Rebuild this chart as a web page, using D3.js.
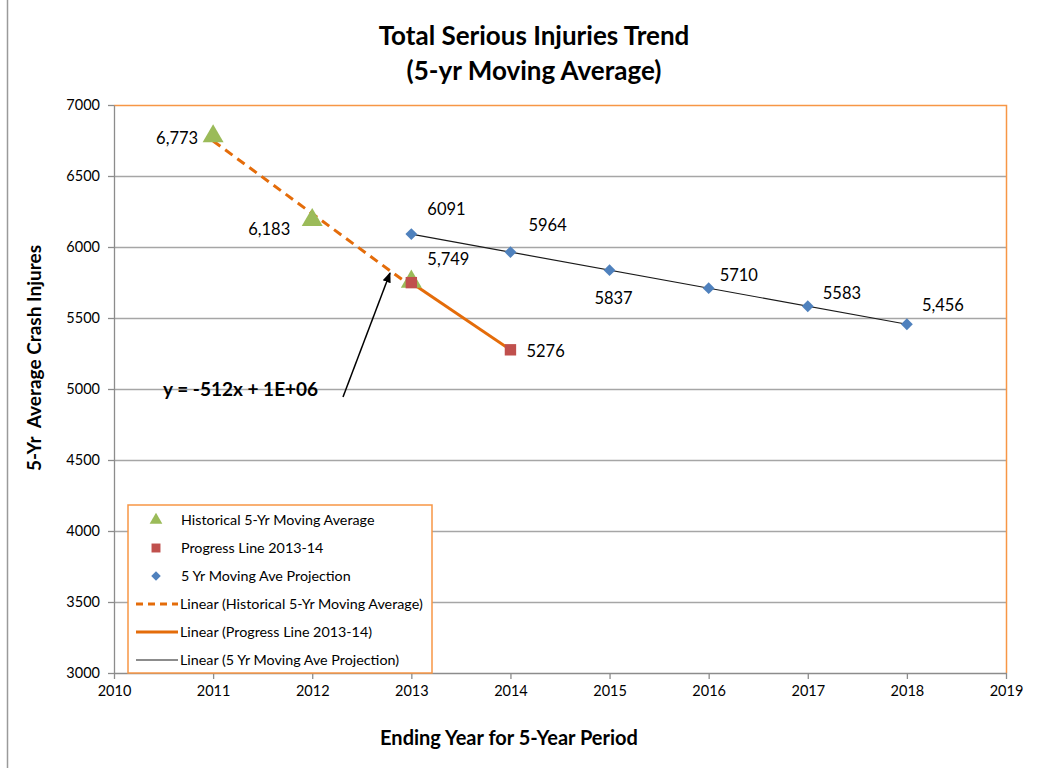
<!DOCTYPE html>
<meta charset="utf-8">
<style>
  body { margin: 0; background: #fff; }
  text { font-family: Lato, "Open Sans", sans-serif; fill: #000; }
</style>
<body>
<div id="chart"></div>
<script src="https://d3js.org/d3.v7.min.js"></script>
<script>

  // data
  var histYears = [2011, 2012, 2013],
      histValues = [6773, 6183, 5749];

  var progYears = [2013, 2014],
      progValues = [5749, 5276];

  var projYears = [2013, 2014, 2015, 2016, 2017, 2018],
      projValues = [6091, 5964, 5837, 5710, 5583, 5456];

  var xTicks = [2010, 2011, 2012, 2013, 2014, 2015, 2016, 2017, 2018, 2019],
      yTicks = [3000, 3500, 4000, 4500, 5000, 5500, 6000, 6500, 7000];

  var histLabels = ["6,773", "6,183", ""],
      progLabels = ["5,749", "5276"],
      projLabels = ["6091", "5964", "5837", "5710", "5583", "5,456"];

  var legendNames = ["Historical 5-Yr Moving Average", "Progress Line 2013-14",
                     "5 Yr Moving Ave Projection", "Linear (Historical 5-Yr Moving Average)",
                     "Linear (Progress Line 2013-14)", "Linear (5 Yr Moving Ave Projection)"];

  var green = "#9bbb59", red = "#c0504d", blue = "#4f81bd",
      orange = "#e46c0a", frame = "#f79646", grid = "#a6a6a6";

  var W = 1052, H = 768,
      plot = {left: 114, right: 1006, top: 105, bottom: 673};

  var x = d3.scaleLinear().domain([2010, 2019]).range([plot.left, plot.right]),
      y = d3.scaleLinear().domain([3000, 7000]).range([plot.bottom, plot.top]);

  var svg = d3.select("#chart").append("svg")
              .attr("width", W).attr("height", H);

  // outer frame edge on the left
  svg.append("line").attr("x1", 7.5).attr("x2", 7.5).attr("y1", 0).attr("y2", H)
     .attr("stroke", "#9a9a9a").attr("stroke-width", 1.5);

  // gridlines
  svg.append("g").selectAll("line")
     .data(yTicks.filter(d => d > 3000 && d < 7000))
     .enter().append("line")
     .attr("x1", plot.left).attr("x2", plot.right)
     .attr("y1", d => Math.round(y(d)) + 0.5).attr("y2", d => Math.round(y(d)) + 0.5)
     .attr("stroke", grid).attr("stroke-width", 1.3);

  // plot area border (orange top/right)
  svg.append("path")
     .attr("d", "M" + plot.left + "," + (plot.top + 0.5) + "H" + (plot.right + 0.5) + "V" + plot.bottom)
     .attr("fill", "none").attr("stroke", frame).attr("stroke-width", 1.5);

  // axes
  var axisX = d3.axisBottom(x).tickValues(xTicks).tickFormat(d3.format("d"))
                .tickSizeInner(6).tickSizeOuter(0).tickPadding(7);
  var axisY = d3.axisLeft(y).tickValues(yTicks).tickFormat(d3.format("d"))
                .tickSizeInner(6).tickSizeOuter(0).tickPadding(8);

  var gx = svg.append("g").attr("transform", "translate(0," + plot.bottom + ")").call(axisX);
  var gy = svg.append("g").attr("transform", "translate(" + plot.left + ",0)").call(axisY);
  [gx, gy].forEach(g => {
    g.selectAll("path, line").attr("stroke", "#8c8c8c").attr("stroke-width", 1.3);
    g.selectAll("text").attr("fill", "#222").style("font-size", "14.5px");
  });

  // titles
  svg.append("text").attr("x", 534).attr("y", 45).attr("text-anchor", "middle")
     .style("font-size", "26px").style("font-weight", "bold").text("Total Serious Injuries Trend");
  svg.append("text").attr("x", 534).attr("y", 80).attr("text-anchor", "middle")
     .style("font-size", "26px").style("font-weight", "bold").text("(5-yr Moving Average)");

  svg.append("text").attr("transform", "translate(41,358) rotate(-90)").attr("text-anchor", "middle")
     .style("font-size", "19px").style("font-weight", "bold").style("white-space", "pre")
     .text("5-Yr  Average Crash Injures");

  svg.append("text").attr("x", 509).attr("y", 745).attr("text-anchor", "middle")
     .style("font-size", "20px").style("font-weight", "bold")
     .text("Ending Year for 5-Year Period");

  // linear trend from least squares
  function trend(xs, ys) {
    var mx = d3.mean(xs), my = d3.mean(ys);
    var b = d3.sum(xs, (v, i) => (v - mx) * (ys[i] - my)) / d3.sum(xs, v => (v - mx) * (v - mx));
    var a = my - b * mx;
    var x0 = d3.min(xs), x1 = d3.max(xs);
    return [[x0, a + b * x0], [x1, a + b * x1]];
  }

  var line = d3.line().x(d => x(d[0])).y(d => y(d[1]));

  svg.append("path").datum(trend(histYears, histValues)).attr("d", line)
     .attr("fill", "none").attr("stroke", orange).attr("stroke-width", 3)
     .attr("stroke-dasharray", "9,6");
  svg.append("path").datum(trend(progYears, progValues)).attr("d", line)
     .attr("fill", "none").attr("stroke", orange).attr("stroke-width", 3);
  svg.append("path").datum(trend(projYears, projValues)).attr("d", line)
     .attr("fill", "none").attr("stroke", "#1a1a1a").attr("stroke-width", 1.2);

  // markers
  var tri = d3.symbol().type(d3.symbolTriangle).size(190),
      sq = d3.symbol().type(d3.symbolSquare).size(130),
      dia = d3.symbol().type(d3.symbolSquare).size(70);

  svg.append("g").selectAll("path").data(histYears).enter().append("path")
     .attr("d", tri).attr("fill", green)
     .attr("transform", (d, i) => "translate(" + x(d) + "," + (y(histValues[i]) - 1) + ")");
  svg.append("g").selectAll("path").data(progYears).enter().append("path")
     .attr("d", sq).attr("fill", red)
     .attr("transform", (d, i) => "translate(" + x(d) + "," + y(progValues[i]) + ")");
  svg.append("g").selectAll("path").data(projYears).enter().append("path")
     .attr("d", dia).attr("fill", blue)
     .attr("transform", (d, i) => "translate(" + x(d) + "," + y(projValues[i]) + ") rotate(45)");

  // data labels: [dx, dy, anchor]
  var histOff = [[-15, 7, "end"], [-22, 14, "end"], [0, 0, "start"]],
      progOff = [[16, -18, "start"], [16, 7, "start"]],
      projOff = [[16, -19, "start"], [18, -21, "start"], [4, 34, "middle"],
                 [11, -7, "start"], [15, -7, "start"], [15, -13, "start"]];

  function labels(xs, vs, txt, off) {
    svg.append("g").selectAll("text").data(xs).enter().append("text")
       .attr("x", (d, i) => x(d) + off[i][0])
       .attr("y", (d, i) => y(vs[i]) + off[i][1])
       .attr("text-anchor", (d, i) => off[i][2])
       .style("font-size", "16.5px")
       .text((d, i) => txt[i]);
  }
  labels(histYears, histValues, histLabels, histOff);
  labels(progYears, progValues, progLabels, progOff);
  labels(projYears, projValues, projLabels, projOff);

  // trend equation annotation
  svg.append("text").attr("x", 163).attr("y", 396)
     .style("font-size", "19px").style("font-weight", "bold")
     .text("y = -512x + 1E+06");

  svg.append("defs").append("marker").attr("id", "arrow")
     .attr("viewBox", "0 0 10 10").attr("refX", 9).attr("refY", 5)
     .attr("markerWidth", 7).attr("markerHeight", 7).attr("orient", "auto")
     .append("path").attr("d", "M0,1L10,5L0,9Z").attr("fill", "#000");
  svg.append("line").attr("x1", 343).attr("y1", 397).attr("x2", 390).attr("y2", 273)
     .attr("stroke", "#000").attr("stroke-width", 1.5).attr("marker-end", "url(#arrow)");

  // legend
  var lg = svg.append("g").attr("transform", "translate(128,505)");
  lg.append("rect").attr("width", 304).attr("height", 168)
    .attr("fill", "#fff").attr("stroke", frame).attr("stroke-width", 1.5);

  var legendMarks = [
    g => g.append("path").attr("d", d3.symbol().type(d3.symbolTriangle).size(70)).attr("fill", green).attr("transform", "translate(28,0)"),
    g => g.append("path").attr("d", d3.symbol().type(d3.symbolSquare).size(80)).attr("fill", red).attr("transform", "translate(28,0)"),
    g => g.append("path").attr("d", d3.symbol().type(d3.symbolSquare).size(45)).attr("fill", blue).attr("transform", "translate(28,0) rotate(45)"),
    g => g.append("line").attr("x1", 8).attr("x2", 50).attr("stroke", orange).attr("stroke-width", 3).attr("stroke-dasharray", "7,5"),
    g => g.append("line").attr("x1", 8).attr("x2", 50).attr("stroke", orange).attr("stroke-width", 3),
    g => g.append("line").attr("x1", 8).attr("x2", 50).attr("stroke", "#1a1a1a").attr("stroke-width", 1.2)
  ];

  legendNames.forEach((name, i) => {
    var row = lg.append("g").attr("transform", "translate(0," + (15 + i * 28) + ")");
    legendMarks[i](row);
    row.append("text").attr("x", i < 3 ? 53 : 52).attr("y", 5)
       .style("font-size", "14.3px").attr("fill", "#1f1f1f").text(name);
  });

</script>
</body>
